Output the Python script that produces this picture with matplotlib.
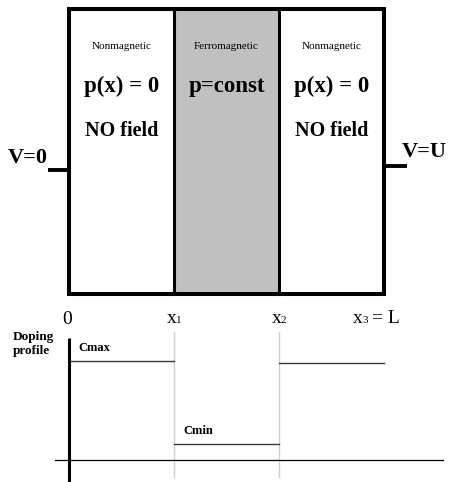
import matplotlib.pyplot as plt
from matplotlib.patches import Rectangle

plt.rcParams['font.family'] = 'Liberation Serif'

# layer boundaries x0..x3 (in units of layer width)
bounds = [0, 1, 2, 3]
bound_index = ['', '1', '2', '3']
region_kind = ['Nonmagnetic', 'Ferromagnetic', 'Nonmagnetic']
region_charge = ['p(x) = 0', 'p=const', 'p(x) = 0']
region_field = ['NO field', '', 'NO field']
region_fill = ['white', '#c0c0c0', 'white']
# doping level in each layer (Cmax, Cmin, Cmax)
doping = [1.0, 0.16, 0.98]
doping_labels = ['Cmax', 'Cmin', '']

fig = plt.figure(figsize=(4.5, 4.82), dpi=100)
px = 105.0   # pixels per layer
x0 = 69.0    # pixel of x = 0
xlim = (-x0 / px, (450 - x0) / px)

# top part: device sketch, y in pixels
ax = fig.add_axes([0, 0, 1, 1])
ax.set_xlim(*xlim)
ax.set_ylim(482, 0)
ax.axis('off')

top, bot = 9, 294
for i in range(3):
    ax.add_patch(Rectangle((bounds[i], top), bounds[i + 1] - bounds[i], bot - top,
                           facecolor=region_fill[i], edgecolor='none', zorder=1))
    xc = (bounds[i] + bounds[i + 1]) / 2
    ax.text(xc, 49, region_kind[i], ha='center', va='baseline', fontsize=8)
    ax.text(xc, 92, region_charge[i], ha='center', va='baseline', fontsize=16.5,
            fontweight='bold')
    if region_field[i]:
        ax.text(xc, 136, region_field[i], ha='center', va='baseline', fontsize=14.5,
                fontweight='bold')
ax.add_patch(Rectangle((bounds[0], top), bounds[-1] - bounds[0], bot - top,
                       facecolor='none', edgecolor='black', lw=2.9, zorder=3))
for b in bounds[1:-1]:
    ax.plot([b, b], [top, bot], color='black', lw=2.2, zorder=3)

# contacts
ax.plot([-0.2, 0], [170, 170], color='black', lw=2.8, solid_capstyle='butt')
ax.plot([3, 3.22], [166, 166], color='black', lw=2.8, solid_capstyle='butt')
ax.text(-0.58, 163, 'V=0', ha='left', va='baseline', fontsize=16, fontweight='bold')
ax.text(3.17, 157, 'V=U', ha='left', va='baseline', fontsize=16, fontweight='bold')

# coordinate labels under the layer boundaries
ax.text(bounds[0] - 0.02, 324, '0', ha='center', va='baseline', fontsize=14)
for b, idx in zip(bounds[1:3], bound_index[1:3]):
    ax.text(b + 0.02, 323, 'x', ha='right', va='baseline', fontsize=14)
    ax.text(b + 0.015, 323, idx, ha='left', va='baseline', fontsize=8)
xl = bounds[3] - 0.2
ax.text(xl, 323, 'x', ha='right', va='baseline', fontsize=14)
ax.text(xl - 0.005, 323, bound_index[3], ha='left', va='baseline', fontsize=8)
ax.text(xl + 0.09, 323, '= L', ha='left', va='baseline', fontsize=14)

ax.text(-0.535, 340, 'Doping', ha='left', va='baseline', fontsize=9.5,
        fontweight='bold')
ax.text(-0.535, 354, 'profile', ha='left', va='baseline', fontsize=9.5,
        fontweight='bold')

# bottom part: doping profile
ax2 = fig.add_axes([0, 0, 1, 1])
ax2.patch.set_alpha(0)
ax2.set_xlim(*xlim)
ax2.set_ylim(-22 / 99, 460 / 99)
ax2.axis('off')

for b in bounds[1:-1]:
    ax2.plot([b, b], [-0.172, 1.293], color='#cfcfcf', lw=1)
for i in range(3):
    ax2.plot([bounds[i], bounds[i + 1]], [doping[i], doping[i]], color='#3a3a3a', lw=1)
    if doping_labels[i]:
        ax2.text(bounds[i] + 0.085, doping[i] + 0.1, doping_labels[i], ha='left',
                 va='baseline', fontsize=9, fontweight='bold')
ax2.plot([-0.133, 3.562], [0, 0], color='black', lw=0.9)
ax2.plot([0, 0], [-0.23, 1.232], color='black', lw=2.2, solid_capstyle='butt')

fig.savefig('out.png', dpi=100)
